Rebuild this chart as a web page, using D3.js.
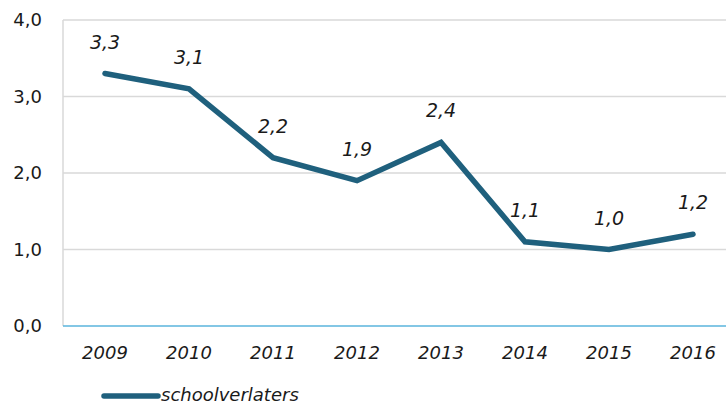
<!DOCTYPE html>
<html>
<head>
<meta charset="utf-8">
<script src="https://cdn.jsdelivr.net/npm/d3@7"></script>
<style>
  body { margin: 0; background: #fff; }
  text { font-family: "DejaVu Sans", Verdana, sans-serif; fill: #1a1a1a; }
</style>
</head>
<body>
<div id="chart"></div>
<script>
const years = ["2009", "2010", "2011", "2012", "2013", "2014", "2015", "2016"];
const values = [3.3, 3.1, 2.2, 1.9, 2.4, 1.1, 1.0, 1.2];
const yTicks = [0, 1, 2, 3, 4];
const seriesName = "schoolverlaters";

const width = 726, height = 409;
const plotLeft = 63, plotRight = 726, plotTop = 20, plotBottom = 326;
const lineColor = "#1f607d";

const svg = d3.select("#chart").append("svg")
    .attr("width", width)
    .attr("height", height);

const x = d3.scalePoint().domain(years).range([105, 693]);
const y = d3.scaleLinear().domain([0, 4]).range([plotBottom, plotTop]);
const fmt = v => d3.format(".1f")(v).replace(".", ",");

// gridlines
svg.append("g").selectAll("line")
    .data(yTicks.filter(d => d > 0))
    .join("line")
    .attr("x1", plotLeft).attr("x2", plotRight)
    .attr("y1", d => y(d)).attr("y2", d => y(d))
    .attr("stroke", "#d9d9d9").attr("stroke-width", 1.5);

// left axis line
svg.append("line")
    .attr("x1", plotLeft).attr("x2", plotLeft)
    .attr("y1", plotTop).attr("y2", plotBottom)
    .attr("stroke", "#d9d9d9").attr("stroke-width", 1.5);

// zero line
svg.append("line")
    .attr("x1", plotLeft).attr("x2", plotRight)
    .attr("y1", y(0)).attr("y2", y(0))
    .attr("stroke", "#5ab4dc").attr("stroke-width", 1.5);

// y labels
svg.append("g").selectAll("text")
    .data(yTicks)
    .join("text")
    .attr("x", 42).attr("y", d => y(d))
    .attr("dy", "0.35em")
    .attr("text-anchor", "end")
    .attr("font-size", 18)
    .text(fmt);

// x labels
svg.append("g").selectAll("text")
    .data(years)
    .join("text")
    .attr("x", d => x(d)).attr("y", 359)
    .attr("text-anchor", "middle")
    .attr("font-size", 18)
    .attr("font-style", "italic")
    .text(d => d);

// line
const line = d3.line()
    .x((d, i) => x(years[i]))
    .y(d => y(d));

svg.append("path")
    .datum(values)
    .attr("fill", "none")
    .attr("stroke", lineColor)
    .attr("stroke-width", 5.5)
    .attr("stroke-linejoin", "miter")
    .attr("stroke-linecap", "round")
    .attr("d", line);

// data labels
svg.append("g").selectAll("text")
    .data(values)
    .join("text")
    .attr("x", (d, i) => x(years[i]))
    .attr("y", d => y(d) - 25)
    .attr("text-anchor", "middle")
    .attr("font-size", 19)
    .attr("font-style", "italic")
    .text(fmt);

// legend
svg.append("line")
    .attr("x1", 104).attr("x2", 158)
    .attr("y1", 396).attr("y2", 396)
    .attr("stroke", lineColor).attr("stroke-width", 5.5)
    .attr("stroke-linecap", "round");

svg.append("text")
    .attr("x", 161).attr("y", 401)
    .attr("font-size", 18)
    .attr("font-style", "italic")
    .text(seriesName);
</script>
</body>
</html>
